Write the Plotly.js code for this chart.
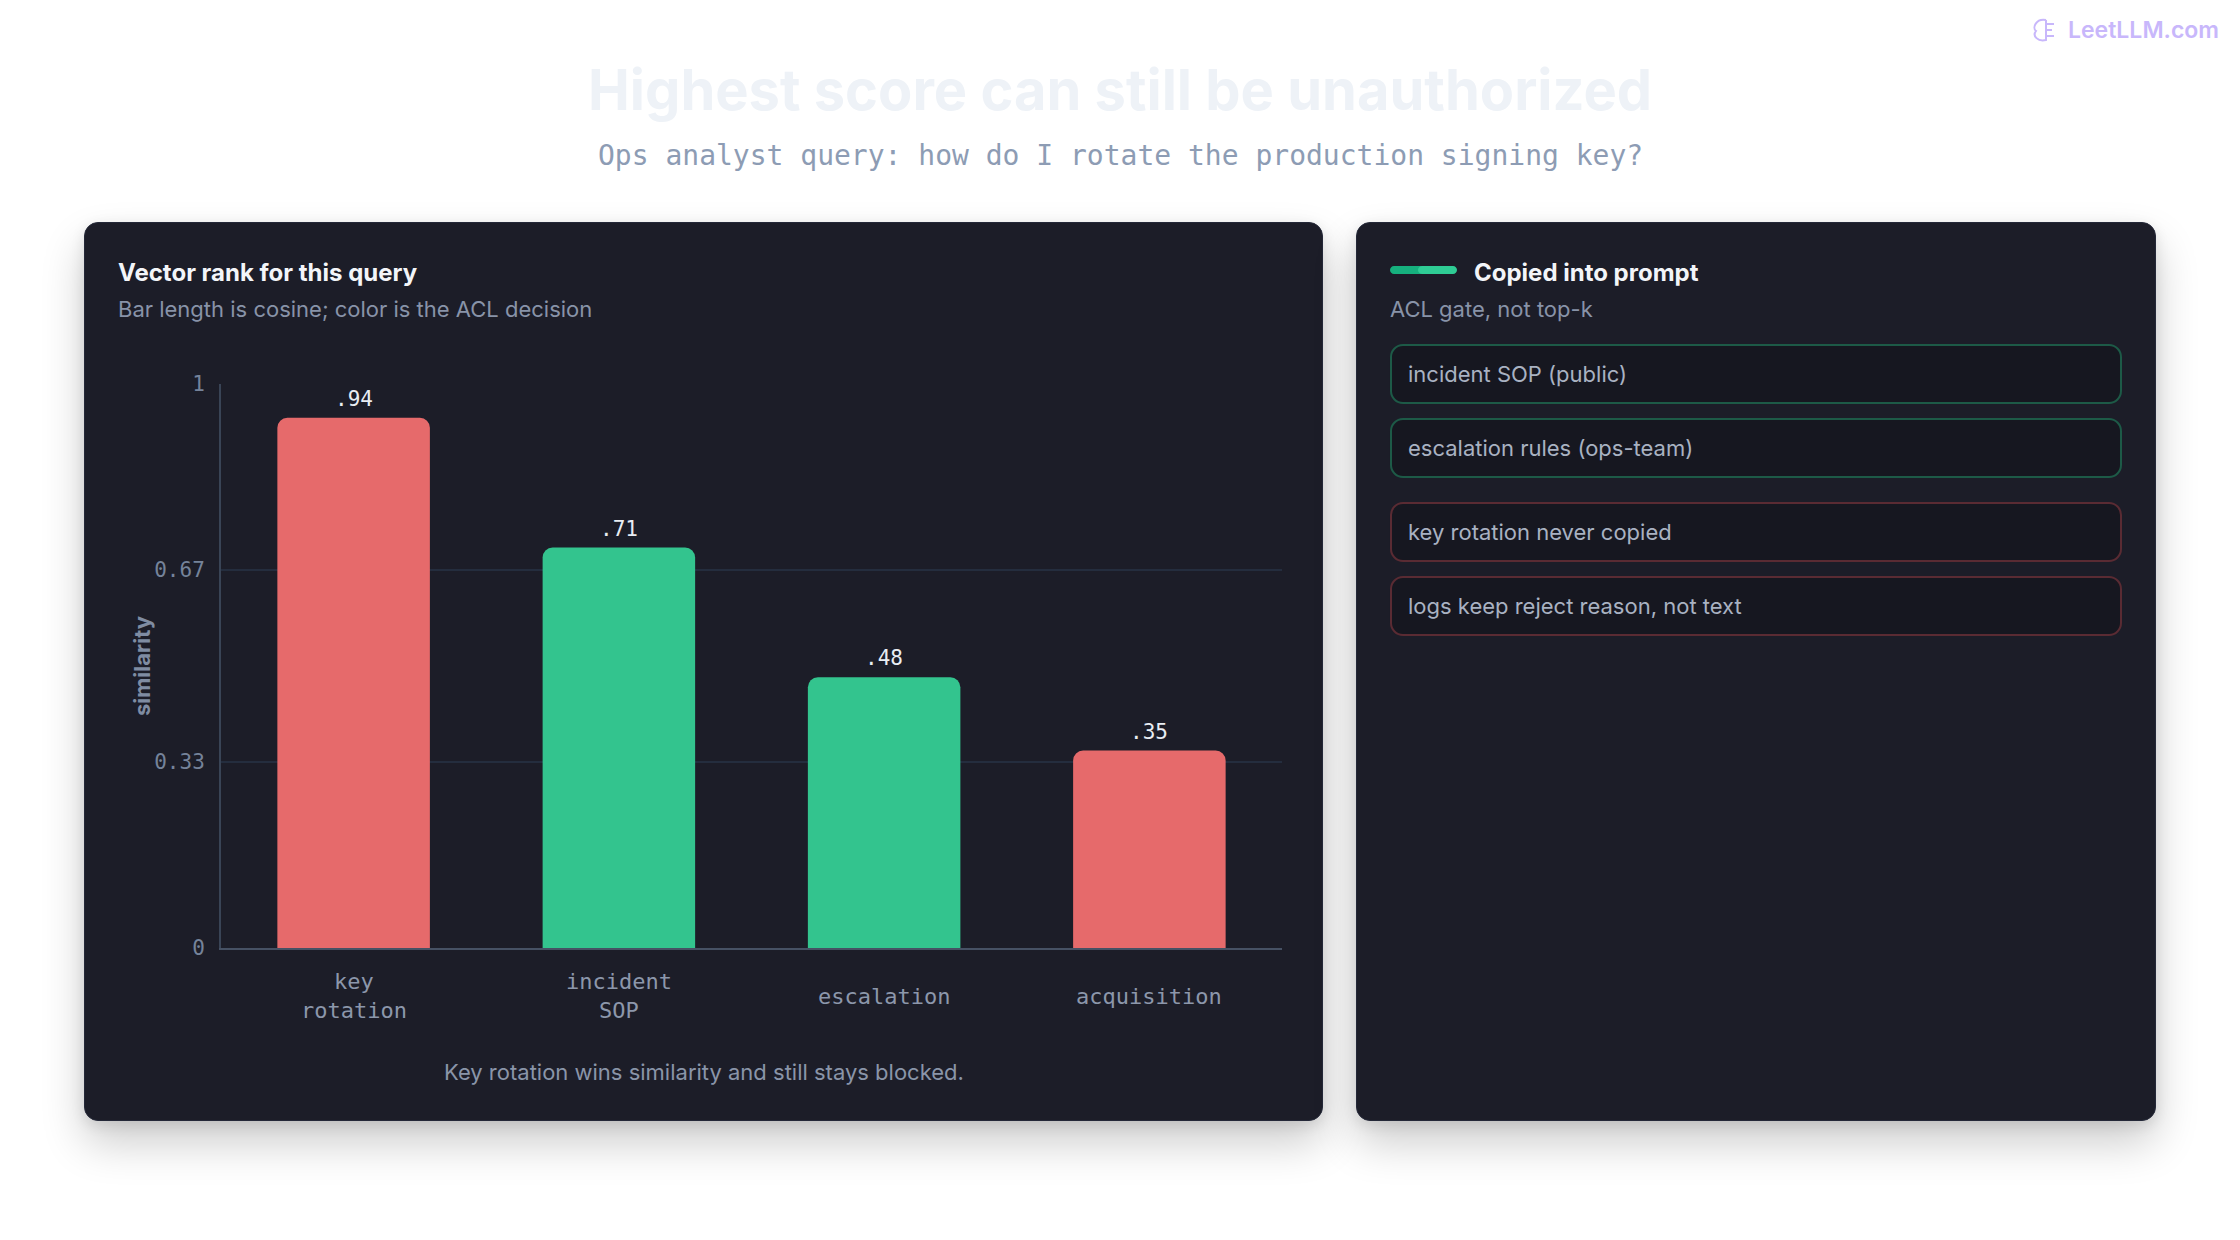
<!DOCTYPE html>
<html>
<head>
<meta charset="utf-8">
<script src="https://cdn.plot.ly/plotly-3.0.1.min.js"></script>
<style>
  html, body { margin: 0; padding: 0; background: #ffffff; }
  #page { position: relative; width: 2240px; height: 1240px; overflow: hidden; background: #ffffff; }
  .panel { position: absolute; background: #1c1d28; border-radius: 14px; border: 1px solid #242838;
           box-shadow: 0 22px 44px rgba(0,0,0,0.20), 0 4px 14px rgba(0,0,0,0.10); box-sizing: border-box; }
  #chart { position: absolute; left: 0; top: 0; width: 2240px; height: 1240px; }
</style>
</head>
<body>
<div id="page">
  <div class="panel" style="left:84px; top:222px; width:1239px; height:899px;"></div>
  <div class="panel" style="left:1356px; top:222px; width:800px; height:899px;"></div>
  <div id="chart"></div>
</div>
<script>
// ---------------- data ----------------
const categories = ['key rotation', 'incident SOP', 'escalation', 'acquisition'];
const categoryLabels = ['key<br>rotation', 'incident<br>SOP', 'escalation', 'acquisition'];
const similarity = [0.94, 0.71, 0.48, 0.35];
const aclDecision = ['blocked', 'allowed', 'allowed', 'blocked'];
const yTickVals = [0, 0.33, 0.67, 1];
const yTickText = ['0', '0.33', '0.67', '1'];
const copiedItems = ['incident SOP (public)', 'escalation rules (ops-team)'];
const rejectedItems = ['key rotation never copied', 'logs keep reject reason, not text'];

const mainTitle = 'Highest score can still be unauthorized';
const subTitle = 'Ops analyst query: how do I rotate the production signing key?';
const leftHeading = 'Vector rank for this query';
const leftSub = 'Bar length is cosine; color is the ACL decision';
const leftFooter = 'Key rotation wins similarity and still stays blocked.';
const rightHeading = 'Copied into prompt';
const rightSub = 'ACL gate, not top-k';
const yTitle = 'similarity';
const brand = 'LeetLLM.com';

// ---------------- styling ----------------
const W = 2240, H = 1240;
const SANS = 'Inter, "Noto Sans", sans-serif';
const MONO = '"DejaVu Sans Mono", "Liberation Mono", monospace';
const decisionColor = { blocked: '#e66a6b', allowed: '#33c48e' };
const px = x => x / W;
const py = y => 1 - y / H;

function roundRectPath(x0, y0, x1, y1, r) {
  const X = v => px(v).toFixed(6), Y = v => py(v).toFixed(6);
  const k = 0.45;
  return 'M ' + X(x0 + r) + ',' + Y(y0) +
    ' L ' + X(x1 - r) + ',' + Y(y0) +
    ' C ' + X(x1 - r * k) + ',' + Y(y0) + ' ' + X(x1) + ',' + Y(y0 + r * k) + ' ' + X(x1) + ',' + Y(y0 + r) +
    ' L ' + X(x1) + ',' + Y(y1 - r) +
    ' C ' + X(x1) + ',' + Y(y1 - r * k) + ' ' + X(x1 - r * k) + ',' + Y(y1) + ' ' + X(x1 - r) + ',' + Y(y1) +
    ' L ' + X(x0 + r) + ',' + Y(y1) +
    ' C ' + X(x0 + r * k) + ',' + Y(y1) + ' ' + X(x0) + ',' + Y(y1 - r * k) + ' ' + X(x0) + ',' + Y(y1 - r) +
    ' L ' + X(x0) + ',' + Y(y0 + r) +
    ' C ' + X(x0) + ',' + Y(y0 + r * k) + ' ' + X(x0 + r * k) + ',' + Y(y0) + ' ' + X(x0 + r) + ',' + Y(y0) + ' Z';
}

// ---------------- trace ----------------
const barTrace = {
  type: 'bar',
  x: categories,
  y: similarity,
  marker: { color: aclDecision.map(d => decisionColor[d]), cornerradius: 10, line: { width: 0 } },
  hoverinfo: 'skip',
  width: 0.575
};

// ---------------- annotations ----------------
const annotations = [];
function addText(text, x, y, opts) {
  annotations.push(Object.assign({
    text: text, xref: 'paper', yref: 'paper', x: px(x), y: py(y),
    showarrow: false, xanchor: 'left', yanchor: 'middle'
  }, opts));
}
addText(mainTitle, 1120, 90, { xanchor: 'center', font: { family: SANS, size: 56, weight: 700, color: '#eef2f7' } });
addText(subTitle, 1120, 155, { xanchor: 'center', font: { family: MONO, size: 28, color: '#8d9cb4' } });
addText(brand, 2066, 30, { font: { family: SANS, size: 23, weight: 600, color: '#c8b7fb' } });

addText(leftHeading, 116, 272, { font: { family: SANS, size: 24, weight: 700, color: '#f3f5f9' } });
addText(leftSub, 116, 309, { font: { family: SANS, size: 22, color: '#8893a8' } });
addText(leftFooter, 704, 1072, { xanchor: 'center', font: { family: SANS, size: 22, color: '#8a95a9' } });
addText(yTitle, 142, 666, { xanchor: 'center', textangle: -90, font: { family: SANS, size: 22, weight: 700, color: '#7f8ca2' } });

addText(rightHeading, 1472, 272, { font: { family: SANS, size: 24, weight: 700, color: '#f3f5f9' } });
addText(rightSub, 1388, 309, { font: { family: SANS, size: 22, color: '#8893a8' } });

// category labels through the x scale
categories.forEach((c, i) => {
  annotations.push({
    text: categoryLabels[i], xref: 'x', yref: 'y', x: c, y: 0, yshift: -48,
    showarrow: false, xanchor: 'center', yanchor: 'middle', align: 'center',
    font: { family: MONO, size: 22, color: '#8c97ab' }
  });
});
// value labels above bars, through the scales
categories.forEach((c, i) => {
  annotations.push({
    text: similarity[i].toFixed(2).replace(/^0/, ''), xref: 'x', yref: 'y', x: c, y: similarity[i], yshift: 5,
    showarrow: false, xanchor: 'center', yanchor: 'bottom',
    font: { family: MONO, size: 21, color: '#e9edf3' }
  });
});

// ---------------- shapes ----------------
const shapes = [];
shapes.push({ type: 'path', xref: 'paper', yref: 'paper', layer: 'above',
  path: roundRectPath(1390, 266, 1424, 274, 4), fillcolor: '#16b07e', line: { width: 0 } });
shapes.push({ type: 'path', xref: 'paper', yref: 'paper', layer: 'above',
  path: roundRectPath(1418, 266, 1457, 274, 4), fillcolor: '#2fcc95', line: { width: 0 } });

const boxRows = [
  { text: copiedItems[0], top: 345, color: '#1d5a47' },
  { text: copiedItems[1], top: 419, color: '#1d5a47' },
  { text: rejectedItems[0], top: 503, color: '#5a2b33' },
  { text: rejectedItems[1], top: 577, color: '#5a2b33' }
];
boxRows.forEach(b => {
  shapes.push({ type: 'path', xref: 'paper', yref: 'paper', layer: 'below',
    path: roundRectPath(1391, b.top, 2121, b.top + 58, 12), fillcolor: '#161720',
    line: { color: b.color, width: 2 } });
  addText(b.text, 1406, b.top + 29, { font: { family: SANS, size: 22, color: '#a9b2c2' } });
});

// small brand glyph
shapes.push({ type: 'path', xref: 'paper', yref: 'paper', layer: 'above',
  path: 'M ' + px(2046) + ',' + py(20) + ' C ' + px(2036) + ',' + py(18) + ' ' + px(2032) + ',' + py(28) + ' ' + px(2036) + ',' + py(31) +
        ' C ' + px(2032) + ',' + py(36) + ' ' + px(2038) + ',' + py(42) + ' ' + px(2046) + ',' + py(40) + ' L ' + px(2046) + ',' + py(20),
  line: { color: '#c8b7fb', width: 2 } });
shapes.push({ type: 'path', xref: 'paper', yref: 'paper', layer: 'above',
  path: 'M ' + px(2046) + ',' + py(24) + ' L ' + px(2054) + ',' + py(24) + ' M ' + px(2046) + ',' + py(30) + ' L ' + px(2052) + ',' + py(30) +
        ' M ' + px(2046) + ',' + py(36) + ' L ' + px(2054) + ',' + py(36),
  line: { color: '#c8b7fb', width: 2 } });

// ---------------- layout ----------------
const layout = {
  width: W, height: H,
  margin: { l: 0, r: 0, t: 0, b: 0, pad: 0 },
  paper_bgcolor: 'rgba(0,0,0,0)',
  plot_bgcolor: 'rgba(0,0,0,0)',
  showlegend: false,
  bargap: 0.425,
  xaxis: {
    domain: [px(221), px(1282)],
    type: 'category',
    showticklabels: false,
    showgrid: false, zeroline: false,
    showline: true, linecolor: '#465164', linewidth: 2,
    ticks: '', fixedrange: true
  },
  yaxis: {
    domain: [py(948), py(384)],
    range: [0, 1],
    tickmode: 'array', tickvals: yTickVals, ticktext: yTickText,
    tickfont: { family: MONO, size: 21, color: '#75839a' },
    ticks: '', ticklabelstandoff: 10,
    showgrid: true, gridcolor: '#242d3e', gridwidth: 2,
    zeroline: false,
    showline: true, linecolor: '#394456', linewidth: 2,
    fixedrange: true
  },
  annotations: annotations,
  shapes: shapes
};

Plotly.newPlot('chart', [barTrace], layout, { displayModeBar: false, staticPlot: true });
</script>
</body>
</html>
